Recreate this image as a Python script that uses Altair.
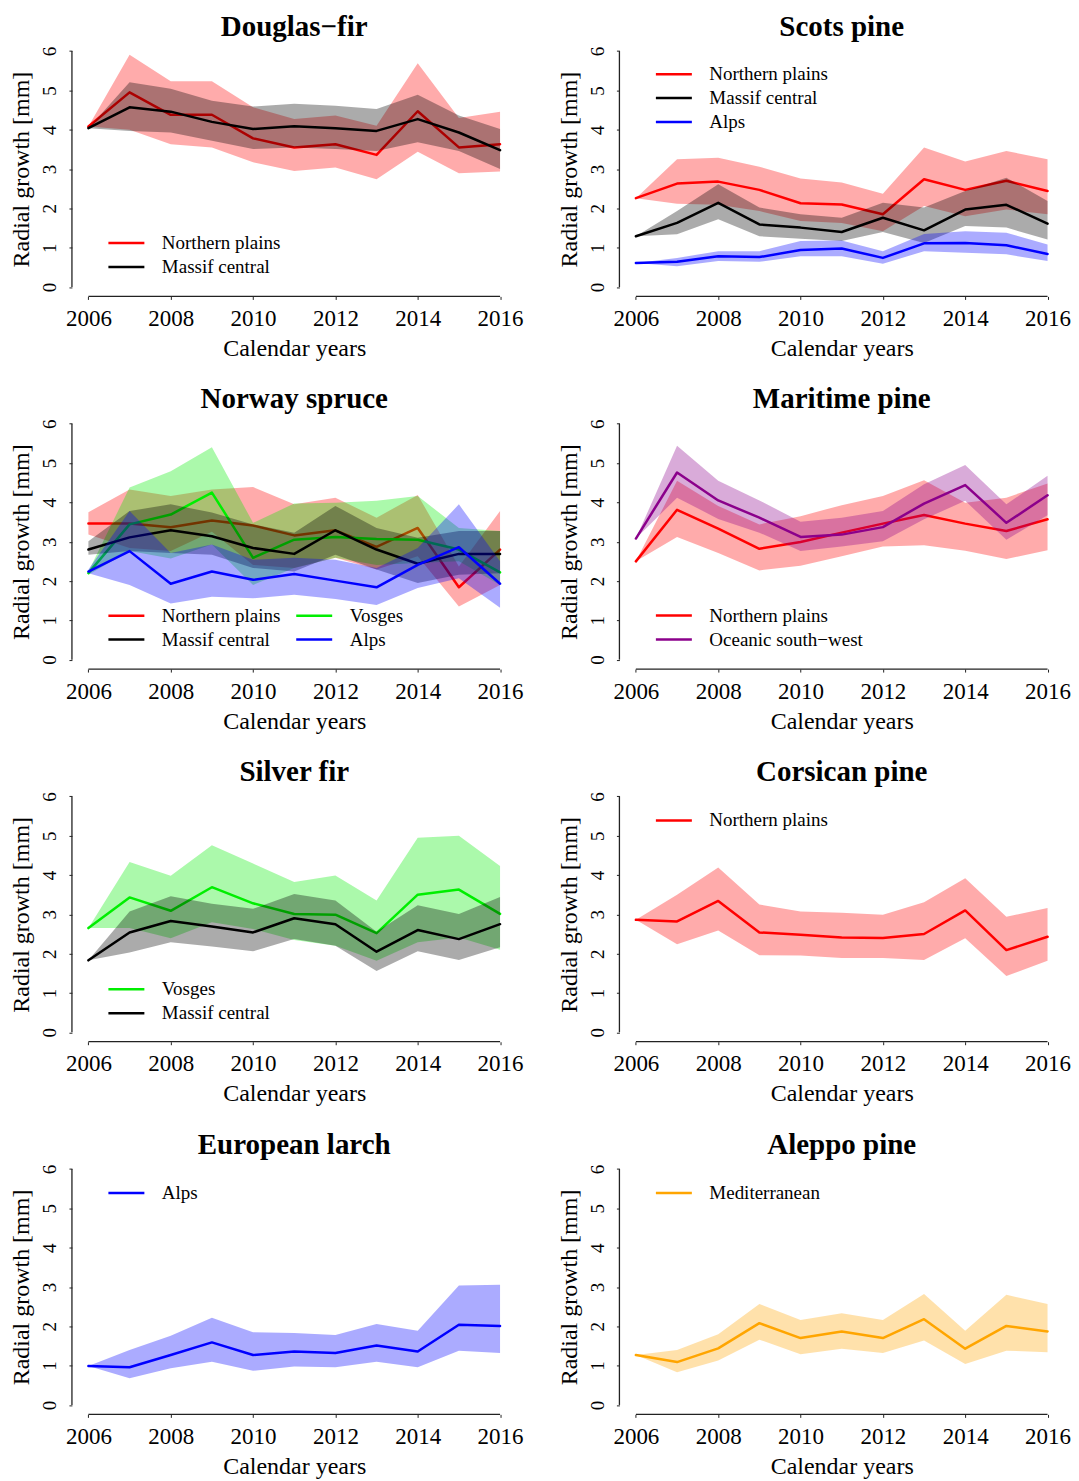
import altair as alt
import pandas as pd

years = list(range(2006, 2017))
x_tick_values = [2006, 2008, 2010, 2012, 2014, 2016]
y_tick_values = [0, 1, 2, 3, 4, 5, 6]

# Douglas-fir
df_np_mean = [4.08, 4.95, 4.38, 4.38, 3.78, 3.55, 3.63, 3.36, 4.47, 3.55, 3.63]
df_np_lo = [4.08, 4.00, 3.63, 3.55, 3.17, 2.95, 3.04, 2.74, 3.44, 2.89, 2.94]
df_np_hi = [4.08, 5.91, 5.23, 5.23, 4.57, 4.27, 4.36, 4.10, 5.69, 4.30, 4.46]
df_mc_mean = [4.04, 4.57, 4.46, 4.20, 4.02, 4.09, 4.04, 3.97, 4.27, 3.93, 3.48]
df_mc_lo = [4.04, 3.97, 3.93, 3.72, 3.51, 3.55, 3.51, 3.46, 3.68, 3.46, 3.00]
df_mc_hi = [4.04, 5.21, 5.04, 4.74, 4.59, 4.66, 4.61, 4.53, 4.89, 4.36, 4.02]

# Scots pine
sp_np_mean = [2.26, 2.63, 2.68, 2.47, 2.13, 2.10, 1.85, 2.74, 2.47, 2.70, 2.44]
sp_np_lo = [2.26, 2.12, 2.09, 1.93, 1.68, 1.63, 1.42, 2.06, 1.80, 1.97, 1.85]
sp_np_hi = [2.26, 3.25, 3.29, 3.06, 2.76, 2.66, 2.37, 3.55, 3.19, 3.46, 3.25]
sp_mc_mean = [1.29, 1.63, 2.14, 1.59, 1.51, 1.40, 1.76, 1.44, 1.97, 2.09, 1.61]
sp_mc_lo = [1.29, 1.34, 1.72, 1.29, 1.23, 1.17, 1.40, 1.12, 1.55, 1.51, 1.21]
sp_mc_hi = [1.29, 1.93, 2.61, 2.02, 1.85, 1.76, 2.14, 2.02, 2.44, 2.78, 2.19]
sp_alps_mean = [0.61, 0.64, 0.78, 0.76, 0.94, 0.98, 0.74, 1.11, 1.12, 1.06, 0.84]
sp_alps_lo = [0.61, 0.53, 0.66, 0.64, 0.78, 0.78, 0.59, 0.91, 0.87, 0.83, 0.66]
sp_alps_hi = [0.61, 0.74, 0.91, 0.91, 1.17, 1.18, 0.91, 1.35, 1.42, 1.38, 1.08]

# Norway spruce
ns_np_mean = [3.46, 3.46, 3.37, 3.54, 3.41, 3.16, 3.29, 2.87, 3.35, 1.84, 2.80]
ns_np_lo = [3.18, 2.84, 2.76, 3.25, 2.41, 2.33, 2.59, 2.29, 2.63, 1.35, 1.90]
ns_np_hi = [3.75, 4.33, 4.16, 4.33, 4.39, 3.95, 4.12, 3.61, 4.19, 2.37, 3.78]
ns_vo_mean = [2.20, 3.44, 3.69, 4.25, 2.59, 3.05, 3.12, 3.07, 3.05, 2.80, 2.22]
ns_vo_lo = [2.16, 2.76, 2.57, 2.93, 1.90, 2.33, 2.59, 2.41, 2.46, 2.50, 1.90]
ns_vo_hi = [2.24, 4.38, 4.79, 5.40, 3.48, 3.97, 3.99, 4.04, 4.16, 3.35, 3.27]
ns_mc_mean = [2.80, 3.11, 3.29, 3.14, 2.84, 2.69, 3.29, 2.80, 2.44, 2.69, 2.69]
ns_mc_lo = [2.67, 2.76, 2.71, 2.67, 2.33, 2.24, 2.67, 2.29, 1.95, 2.16, 2.20]
ns_mc_hi = [3.01, 3.78, 3.95, 3.74, 3.44, 3.23, 3.91, 3.35, 3.10, 3.27, 3.27]
ns_alps_mean = [2.24, 2.76, 1.93, 2.24, 2.03, 2.18, 2.01, 1.84, 2.41, 2.86, 1.93]
ns_alps_lo = [2.20, 1.90, 1.43, 1.60, 1.56, 1.65, 1.54, 1.39, 1.82, 2.07, 1.32]
ns_alps_hi = [2.29, 3.78, 2.71, 2.93, 2.54, 2.59, 2.54, 2.33, 2.84, 3.95, 2.50]

# Maritime pine
mp_np_mean = [2.50, 3.81, 3.33, 2.82, 2.99, 3.23, 3.46, 3.68, 3.46, 3.27, 3.57]
mp_np_lo = [2.50, 3.12, 2.71, 2.27, 2.39, 2.63, 2.88, 2.91, 2.77, 2.56, 2.78]
mp_np_hi = [2.50, 4.55, 3.91, 3.44, 3.65, 3.93, 4.16, 4.56, 3.99, 4.12, 4.48]
mp_osw_mean = [3.08, 4.76, 4.05, 3.61, 3.12, 3.18, 3.37, 3.97, 4.44, 3.48, 4.18]
mp_osw_lo = [3.08, 4.12, 3.58, 3.23, 2.76, 2.88, 3.01, 3.57, 4.04, 3.05, 3.67]
mp_osw_hi = [3.08, 5.44, 4.55, 4.05, 3.51, 3.61, 3.78, 4.46, 4.95, 3.95, 4.68]

# Silver fir
sf_vo_mean = [2.65, 3.43, 3.09, 3.69, 3.28, 3.01, 2.99, 2.52, 3.50, 3.63, 3.01]
sf_vo_lo = [2.65, 2.65, 2.39, 2.80, 2.63, 2.35, 2.20, 1.82, 2.29, 2.41, 2.10]
sf_vo_hi = [2.65, 4.33, 3.98, 4.76, 4.29, 3.82, 3.99, 3.35, 4.95, 5.00, 4.23]
sf_mc_mean = [1.83, 2.54, 2.83, 2.69, 2.54, 2.90, 2.75, 2.05, 2.60, 2.37, 2.75]
sf_mc_lo = [1.83, 2.03, 2.29, 2.18, 2.06, 2.37, 2.20, 1.56, 2.06, 1.84, 2.16]
sf_mc_hi = [1.83, 3.07, 3.46, 3.27, 3.14, 3.52, 3.35, 2.56, 3.23, 3.01, 3.44]

# Corsican pine
cp_np_mean = [2.86, 2.82, 3.34, 2.54, 2.48, 2.41, 2.40, 2.50, 3.10, 2.09, 2.43]
cp_np_lo = [2.86, 2.24, 2.59, 1.96, 1.95, 1.89, 1.89, 1.84, 2.39, 1.43, 1.82]
cp_np_hi = [2.86, 3.50, 4.19, 3.25, 3.07, 3.04, 2.99, 3.31, 3.92, 2.94, 3.16]

# European larch
el_alps_mean = [0.99, 0.96, 1.27, 1.59, 1.27, 1.36, 1.32, 1.51, 1.36, 2.04, 2.01]
el_alps_lo = [0.99, 0.68, 0.93, 1.10, 0.87, 0.98, 0.96, 1.10, 0.96, 1.38, 1.32]
el_alps_hi = [0.99, 1.40, 1.76, 2.22, 1.85, 1.83, 1.78, 2.06, 1.89, 3.04, 3.06]

# Aleppo pine
ap_med_mean = [1.27, 1.09, 1.44, 2.08, 1.70, 1.87, 1.70, 2.18, 1.43, 2.01, 1.87]
ap_med_lo = [1.27, 0.83, 1.13, 1.66, 1.29, 1.43, 1.32, 1.64, 1.04, 1.38, 1.34]
ap_med_hi = [1.27, 1.40, 1.80, 2.57, 2.16, 2.33, 2.16, 2.82, 1.89, 2.80, 2.57]

COLORS = {
    "Northern plains": "#FF0000",
    "Massif central": "#000000",
    "Alps": "#0000FF",
    "Vosges": "#00EE00",
    "Oceanic south\u2212west": "#8B008B",
    "Mediterranean": "#FFA500",
}

NP, MC, AL, VO, OSW, MED = ("Northern plains", "Massif central", "Alps", "Vosges",
                            "Oceanic south\u2212west", "Mediterranean")

panels = [
    dict(title="Douglas\u2212fir", legend=[NP, MC], cols=1, ly=192,
         series=[(NP, df_np_mean, df_np_lo, df_np_hi), (MC, df_mc_mean, df_mc_lo, df_mc_hi)]),
    dict(title="Scots pine", legend=[NP, MC, AL], cols=1, ly=23,
         series=[(NP, sp_np_mean, sp_np_lo, sp_np_hi), (MC, sp_mc_mean, sp_mc_lo, sp_mc_hi),
                 (AL, sp_alps_mean, sp_alps_lo, sp_alps_hi)]),
    dict(title="Norway spruce", legend=[NP, MC, VO, AL], cols=2, ly=192,
         series=[(NP, ns_np_mean, ns_np_lo, ns_np_hi), (VO, ns_vo_mean, ns_vo_lo, ns_vo_hi),
                 (MC, ns_mc_mean, ns_mc_lo, ns_mc_hi), (AL, ns_alps_mean, ns_alps_lo, ns_alps_hi)]),
    dict(title="Maritime pine", legend=[NP, OSW], cols=1, ly=192,
         series=[(NP, mp_np_mean, mp_np_lo, mp_np_hi), (OSW, mp_osw_mean, mp_osw_lo, mp_osw_hi)]),
    dict(title="Silver fir", legend=[VO, MC], cols=1, ly=193,
         series=[(VO, sf_vo_mean, sf_vo_lo, sf_vo_hi), (MC, sf_mc_mean, sf_mc_lo, sf_mc_hi)]),
    dict(title="Corsican pine", legend=[NP], cols=1, ly=24,
         series=[(NP, cp_np_mean, cp_np_lo, cp_np_hi)]),
    dict(title="European larch", legend=[AL], cols=1, ly=24,
         series=[(AL, el_alps_mean, el_alps_lo, el_alps_hi)]),
    dict(title="Aleppo pine", legend=[MED], cols=1, ly=24,
         series=[(MED, ap_med_mean, ap_med_lo, ap_med_hi)]),
]

FONT = "Liberation Serif"
W, H = 445, 255

xs = alt.Scale(domain=[2005.6, 2016.4], nice=False, zero=False)
ys = alt.Scale(domain=[-0.24, 6.24], nice=False, zero=False)
x_axis = alt.Axis(values=x_tick_values, format="d", title="Calendar years")
y_axis = alt.Axis(values=y_tick_values, format="d", title="Radial growth [mm]")


def make_panel(p):
    stroke_scale = alt.Scale(domain=p["legend"], range=[COLORS[r] for r in p["legend"]])
    legend = alt.Legend(orient="none", legendX=32, legendY=p["ly"], title=None,
                        columns=p["cols"], symbolType="M-1,0L6.2,0", symbolSize=100,
                        symbolStrokeWidth=2.5, labelFont=FONT, labelFontSize=19,
                        labelColor="black", labelOffset=39, rowPadding=4,
                        columnPadding=10, padding=0, labelLimit=400)
    layers = []
    for name, mean, lo, hi in p["series"]:
        d = pd.DataFrame({"year": years, "mean": mean, "lo": lo, "hi": hi, "region": name})
        base = alt.Chart(d)
        band = base.mark_area(color=COLORS[name], opacity=0.33).encode(
            x=alt.X("year:Q", scale=xs, axis=x_axis),
            y=alt.Y("lo:Q", scale=ys, axis=y_axis),
            y2="hi:Q",
        )
        line = base.mark_line(strokeWidth=2.5, strokeJoin="round", strokeCap="round").encode(
            x=alt.X("year:Q", scale=xs, axis=x_axis),
            y=alt.Y("mean:Q", scale=ys, axis=y_axis),
            stroke=alt.Stroke("region:N", scale=stroke_scale, legend=legend),
        )
        layers += [band, line]
    xline = alt.Chart(pd.DataFrame({"a": [x_tick_values[0]], "b": [x_tick_values[-1]]})).mark_rule(
        color="#222222", strokeWidth=1.3).encode(
        x=alt.X("a:Q", scale=xs, axis=x_axis), x2="b:Q", y=alt.value(H))
    yline = alt.Chart(pd.DataFrame({"a": [y_tick_values[0]], "b": [y_tick_values[-1]]})).mark_rule(
        color="#222222", strokeWidth=1.3).encode(
        y=alt.Y("a:Q", scale=ys, axis=y_axis), y2="b:Q", x=alt.value(0))
    layers += [xline, yline]
    return alt.layer(*layers).properties(
        width=W, height=H,
        title=alt.TitleParams(p["title"], font=FONT, fontSize=29, fontWeight="bold",
                              anchor="middle", frame="group", offset=0, color="black"),
    )


charts = [make_panel(p) for p in panels]
rows = [alt.hconcat(charts[i], charts[i + 1], spacing=33).resolve_scale(stroke="independent")
        for i in range(0, 8, 2)]
chart = alt.vconcat(*rows, spacing=25).resolve_scale(stroke="independent").properties(
    padding={"left": 1, "top": 4, "right": 0, "bottom": 0}
).configure_view(stroke=None).configure_axis(
    grid=False, domain=False, labelFont=FONT, titleFont=FONT, labelColor="black",
    titleColor="black", tickColor="#222222", tickSize=3, titleFontWeight="normal",
    labelFlush=False, labelOverlap=False,
).configure_axisX(
    labelFontSize=23, titleFontSize=24, labelPadding=8, titlePadding=6,
).configure_axisY(
    labelFontSize=19, titleFontSize=24, labelAngle=270, labelAlign="center",
    labelBaseline="bottom", labelPadding=9, titlePadding=7,
)

chart.save("out.html", embed_options={"renderer": "svg", "actions": False})
